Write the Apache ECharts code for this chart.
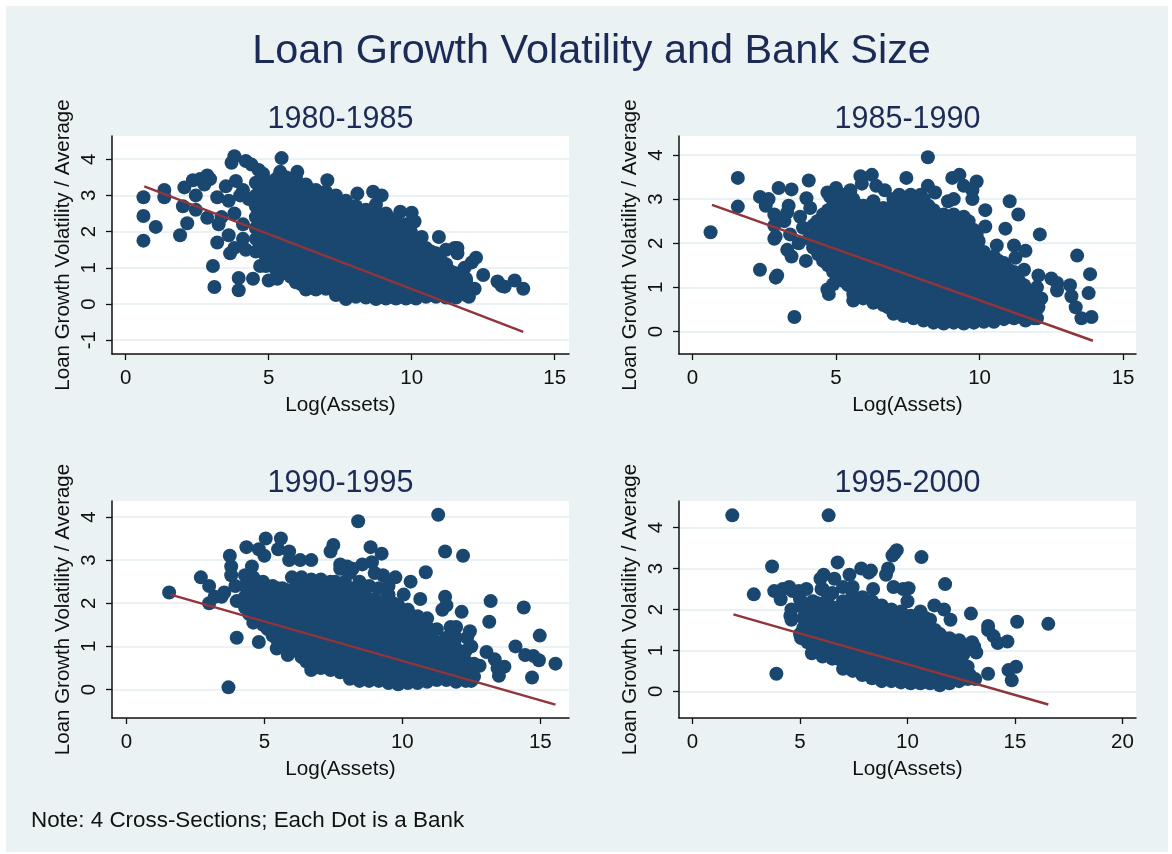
<!DOCTYPE html>
<html><head><meta charset="utf-8">
<style>html,body{margin:0;padding:0;background:#fff}#c{width:1172px;height:854px}</style>
<script src="https://cdn.jsdelivr.net/npm/echarts@6/dist/echarts.min.js"></script></head>
<body><div id="c"></div>
<script>
const mainTitle = "Loan Growth Volatility and Bank Size";
const noteText = "Note: 4 Cross-Sections; Each Dot is a Bank";
const xName = "Log(Assets)";
const yName = "Loan Growth Volatility / Average";
const periods = ["1980-1985","1985-1990","1990-1995","1995-2000"];

const xTicks = [[0,5,10,15],[0,5,10,15],[0,5,10,15],[0,5,10,15,20]];
const yTicks = [[-1,0,1,2,3,4],[0,1,2,3,4],[0,1,2,3,4],[0,1,2,3,4]];
const fit1 = [[0.65,3.25],[13.9,-0.77]];
const fit2 = [[0.68,2.87],[13.95,-0.21]];
const fit3 = [[1.6,2.2],[15.55,-0.35]];
const fit4 = [[1.9,1.88],[16.55,-0.32]];

const scatter1 = [[0.62,2.95],[0.62,2.43],[0.62,1.75],[1.05,2.13],[1.35,3.15],[1.35,2.95],[1.9,1.9],[2.05,3.22],[2.0,2.7],[2.15,2.23],[2.35,3.42],[2.45,3.0],[2.45,2.6],[2.6,3.45],[2.75,3.3],[2.85,3.55],[2.95,3.45],[2.85,2.38],[3.05,1.05],[3.1,0.47],[3.2,2.95],[3.2,1.7],[3.25,2.2],[3.35,2.4],[3.5,3.25],[3.6,2.85],[3.65,1.4],[3.6,1.9],[3.8,1.55],[3.8,2.5],[3.85,3.4],[3.95,0.72],[3.95,0.38],[4.0,3.0],[4.1,2.2],[4.1,1.8],[4.2,1.5],[4.1,3.15],[4.3,2.9],[4.45,0.7],[4.7,1.05],[5.0,0.65],[5.3,0.7],
[3.8,4.08],[3.7,3.9],[4.2,3.95],[4.4,3.85],[5.45,4.03],[4.65,3.7],[4.8,3.6],[5.4,3.65],[6.0,3.65],[7.05,3.42],
[8.1,3.05],[8.65,3.1],[8.95,3.0],[9.6,2.55],[10.0,2.52],[10.1,2.28],[10.35,1.85],[10.95,1.85],[11.2,1.5],[11.5,1.55],[11.6,1.55],[11.6,1.4],[12.25,1.28],[12.1,1.15],[11.85,1.0],[12.5,0.8],[13.0,0.62],[13.15,0.5],[13.25,0.48],[13.6,0.65],[13.9,0.42],[12.2,0.42],[11.9,0.62],[12.0,0.2]];
const columns1 = [
[4.55,[1.45,1.8,2.1,2.4,2.7,3.0,3.35]],
[4.72,[1.6,1.95,2.25,2.55,2.85,3.15]],
[4.9,[1.05,1.3,1.6,1.9,2.2,2.5,2.8,3.1,3.4]],
[5.07,[1.15,1.45,1.75,2.05,2.35,2.65,2.95,3.25]],
[5.25,[0.95,1.2,1.5,1.8,2.1,2.4,2.7,3.0,3.25,3.45]],
[5.42,[1.05,1.35,1.65,1.95,2.25,2.55,2.85,3.15,3.4]],
[5.6,[0.85,1.05,1.35,1.65,1.95,2.25,2.55,2.85,3.15,3.5]],
[5.77,[0.75,1.0,1.3,1.6,1.9,2.2,2.5,2.8,3.1,3.35]],
[5.95,[0.6,0.9,1.2,1.5,1.8,2.1,2.4,2.7,3.0,3.3,3.5]],
[6.12,[0.55,0.85,1.15,1.45,1.75,2.05,2.35,2.65,2.95,3.25]],
[6.3,[0.4,0.7,1.0,1.3,1.6,1.9,2.2,2.5,2.8,3.1,3.3]],
[6.47,[0.5,0.8,1.1,1.4,1.7,2.0,2.3,2.6,2.9,3.15]],
[6.65,[0.4,0.6,0.9,1.2,1.5,1.8,2.1,2.4,2.7,3.0,3.15]],
[6.82,[0.55,0.85,1.15,1.45,1.75,2.05,2.35,2.65,2.95]],
[7.0,[0.42,0.7,1.0,1.3,1.6,1.9,2.2,2.5,2.8,3.1]],
[7.17,[0.45,0.75,1.05,1.35,1.65,1.95,2.25,2.55,2.85]],
[7.35,[0.25,0.55,0.85,1.15,1.45,1.75,2.05,2.35,2.65,3.0]],
[7.52,[0.3,0.6,0.9,1.2,1.5,1.8,2.1,2.4,2.7]],
[7.7,[0.14,0.4,0.7,1.0,1.3,1.6,1.9,2.2,2.5,2.85]],
[7.87,[0.3,0.6,0.9,1.2,1.5,1.8,2.1,2.4,2.7]],
[8.05,[0.2,0.55,0.85,1.15,1.45,1.75,2.05,2.35,2.7]],
[8.22,[0.35,0.65,0.95,1.25,1.55,1.85,2.15,2.45]],
[8.4,[0.18,0.4,0.7,1.0,1.3,1.6,1.9,2.2,2.6]],
[8.57,[0.3,0.6,0.9,1.2,1.5,1.8,2.1,2.4]],
[8.75,[0.14,0.5,0.8,1.1,1.4,1.7,2.0,2.3,2.55,2.75]],
[8.92,[0.3,0.6,0.9,1.2,1.5,1.8,2.1,2.4]],
[9.1,[0.15,0.4,0.7,1.0,1.3,1.6,1.9,2.2,2.5]],
[9.27,[0.3,0.6,0.9,1.2,1.5,1.8,2.1,2.35]],
[9.45,[0.15,0.5,0.8,1.1,1.4,1.7,2.0,2.3]],
[9.62,[0.3,0.6,0.9,1.2,1.5,1.8,2.1]],
[9.8,[0.15,0.4,0.7,1.0,1.3,1.6,1.9,2.2]],
[9.97,[0.3,0.6,0.9,1.2,1.5,1.75,2.0]],
[10.15,[0.15,0.5,0.8,1.1,1.35,1.6]],
[10.32,[0.3,0.6,0.9,1.2,1.45]],
[10.5,[0.2,0.45,0.75,1.05,1.3,1.55]],
[10.67,[0.35,0.65,0.95,1.2,1.45]],
[10.85,[0.2,0.5,0.8,1.1,1.4]],
[11.02,[0.3,0.6,0.9,1.2]],
[11.2,[0.18,0.45,0.75,1.1]],
[11.37,[0.3,0.6,0.9]],
[11.55,[0.18,0.5,0.85]],
[11.72,[0.35,0.6]],
[11.9,[0.25,0.45,0.7]]];

const scatter2 = [[0.63,2.25],[1.58,3.48],[1.58,2.83],[2.35,3.05],[2.65,3.0],[2.55,2.85],[2.35,1.4],[2.85,2.65],[2.85,2.4],[2.9,1.22],[2.95,1.27],[2.85,2.1],[2.9,2.15],[3.0,3.25],[3.2,2.5],[3.3,2.7],[3.35,2.85],[3.3,1.85],[3.4,2.2],[3.45,1.7],[3.45,3.22],[3.7,2.0],[3.75,2.6],[3.85,2.35],[3.95,1.6],[3.97,3.02],[4.05,3.42],[3.55,0.33],[4.05,2.1],[4.1,2.8],[4.35,2.5],[4.5,1.7],[4.7,3.15],[4.8,3.05],[4.7,0.95],[4.75,0.85],[4.9,1.07],[5.0,3.25],[5.3,3.1],[5.5,3.2],[5.6,3.0],[5.6,0.7],[5.85,3.52],[5.9,3.35],[6.25,3.55],[6.4,3.3],[6.7,3.2],[7.0,3.0],[7.45,3.48],[7.2,3.1],[7.6,3.1],[7.95,3.1],[8.2,3.95],[8.2,3.3],[8.45,3.15],[8.9,2.95],[9.1,3.0],[9.05,3.48],[9.3,3.55],[9.45,3.3],[9.75,3.2],[9.9,3.4],[9.75,3.0],[10.2,2.75],[10.2,2.38],[9.9,2.2],[10.9,2.33],[11.05,2.95],[11.35,2.65],[12.1,2.2],[10.6,1.95],[11.2,1.95],[11.25,1.67],[11.6,1.83],[11.55,1.4],[12.05,1.27],[12.5,1.2],[12.7,1.1],[12.7,0.93],[12.0,1.0],[12.15,0.75],[12.05,0.55],[13.15,1.05],[13.2,0.8],[13.35,0.55],[13.55,0.3],[13.4,1.72],[13.8,0.87],[13.85,1.3],[13.9,0.33],[11.6,0.25],[12.0,0.3]];
const columns2 = [
[4.2,[1.9,2.15,2.4]],
[4.38,[1.75,2.0,2.25,2.5]],
[4.55,[1.6,1.85,2.1,2.35,2.65]],
[4.72,[1.5,1.75,2.0,2.25,2.5,2.75]],
[4.9,[1.35,1.6,1.85,2.1,2.35,2.6,2.85,3.05]],
[5.07,[1.25,1.5,1.75,2.0,2.25,2.5,2.75]],
[5.25,[1.15,1.45,1.7,1.95,2.2,2.45,2.7,2.9]],
[5.42,[1.05,1.3,1.55,1.8,2.05,2.3,2.55,2.8]],
[5.6,[0.85,1.15,1.4,1.65,1.9,2.15,2.4,2.65,2.9]],
[5.77,[0.9,1.15,1.4,1.65,1.9,2.15,2.4,2.65,2.85]],
[5.95,[0.75,1.0,1.25,1.5,1.75,2.0,2.25,2.5,2.85]],
[6.12,[0.8,1.05,1.3,1.55,1.8,2.05,2.3,2.55,2.8]],
[6.3,[0.65,0.9,1.15,1.4,1.65,1.9,2.15,2.4,2.65,2.95]],
[6.47,[0.7,0.95,1.2,1.45,1.7,1.95,2.2,2.45,2.7]],
[6.65,[0.6,0.8,1.05,1.3,1.55,1.8,2.05,2.3,2.55,2.8]],
[6.82,[0.55,0.8,1.05,1.3,1.55,1.8,2.05,2.3,2.55,2.75]],
[7.0,[0.4,0.65,0.9,1.15,1.4,1.65,1.9,2.15,2.4,2.65,2.85]],
[7.17,[0.5,0.75,1.0,1.25,1.5,1.75,2.0,2.25,2.5,2.75]],
[7.35,[0.35,0.55,0.8,1.05,1.3,1.55,1.8,2.05,2.3,2.55,2.8,3.0]],
[7.52,[0.45,0.7,0.95,1.2,1.45,1.7,1.95,2.2,2.45,2.7,2.95]],
[7.7,[0.3,0.6,0.85,1.1,1.35,1.6,1.85,2.1,2.35,2.6,2.85]],
[7.87,[0.4,0.65,0.9,1.15,1.4,1.65,1.9,2.15,2.4,2.65,2.9]],
[8.05,[0.25,0.5,0.75,1.0,1.25,1.5,1.75,2.0,2.25,2.5,2.75,3.0]],
[8.22,[0.35,0.6,0.85,1.1,1.35,1.6,1.85,2.1,2.35,2.6,2.85]],
[8.4,[0.2,0.45,0.7,0.95,1.2,1.45,1.7,1.95,2.2,2.45,2.75]],
[8.57,[0.3,0.55,0.8,1.05,1.3,1.55,1.8,2.05,2.3,2.55]],
[8.75,[0.18,0.4,0.65,0.9,1.15,1.4,1.65,1.9,2.15,2.4,2.65]],
[8.92,[0.3,0.55,0.8,1.05,1.3,1.55,1.8,2.05,2.3,2.55]],
[9.1,[0.2,0.5,0.75,1.0,1.25,1.5,1.75,2.0,2.25,2.45,2.65]],
[9.27,[0.3,0.55,0.8,1.05,1.3,1.55,1.8,2.05,2.3,2.55]],
[9.45,[0.18,0.4,0.65,0.9,1.15,1.4,1.65,1.9,2.15,2.4,2.6]],
[9.62,[0.3,0.55,0.8,1.05,1.3,1.55,1.8,2.05,2.3,2.5]],
[9.8,[0.2,0.5,0.75,1.0,1.25,1.5,1.75,2.0,2.3]],
[9.97,[0.35,0.6,0.85,1.1,1.35,1.6,1.85,2.05]],
[10.15,[0.22,0.45,0.7,0.95,1.2,1.45,1.8]],
[10.32,[0.35,0.6,0.85,1.1,1.35,1.6]],
[10.5,[0.22,0.5,0.75,1.0,1.25,1.5,1.7]],
[10.67,[0.35,0.6,0.85,1.1,1.35,1.6]],
[10.85,[0.28,0.55,0.8,1.05,1.3,1.55]],
[11.02,[0.4,0.65,0.9,1.15,1.4]],
[11.2,[0.3,0.55,0.8,1.05,1.35]],
[11.37,[0.4,0.65,0.9,1.15]],
[11.55,[0.3,0.6,0.85,1.05]],
[11.72,[0.4,0.65,0.9]],
[11.9,[0.3,0.5,0.7]]];

const scatter3 = [[1.55,2.25],[2.7,2.6],[3.0,2.0],[3.0,2.4],[3.2,2.15],[3.45,2.15],[3.55,2.25],[3.7,0.05],[3.75,3.1],[3.8,2.85],[3.8,2.65],[3.95,2.4],[4.0,1.2],[4.0,2.05],[4.3,2.05],[4.3,2.65],[4.35,3.3],[4.55,2.85],[4.8,1.1],[4.8,3.25],[5.0,3.1],[5.05,3.5],[5.5,3.25],[5.6,3.5],[5.45,0.95],[5.9,3.2],[5.9,3.0],[5.85,0.8],[6.3,3.0],[6.7,3.0],[7.4,3.2],[7.5,3.35],[7.75,2.9],[8.0,2.85],[8.2,2.8],[8.4,3.9],[8.55,2.9],[8.85,3.3],[8.9,2.95],[9.25,3.15],[9.0,2.7],[9.3,2.65],[9.5,2.4],[9.75,2.6],[10.05,2.2],[10.3,2.5],[10.65,2.1],[10.85,2.72],[11.3,4.05],[11.55,3.2],[11.55,2.15],[11.6,1.95],[11.45,1.85],[12.2,3.1],[12.15,1.8],[11.75,1.45],[11.95,1.45],[12.45,1.35],[12.35,1.2],[12.5,1.0],[13.05,0.87],[13.35,0.7],[13.45,0.5],[13.7,0.53],[13.5,0.32],[13.15,1.57],[13.2,2.05],[14.1,1.0],[14.4,1.9],[14.45,0.8],[14.7,0.28],[14.75,0.78],[14.95,0.68],[14.98,1.25],[15.55,0.6],[12.8,0.55],[12.5,0.2]];
const columns3 = [
[4.3,[1.9,2.15,2.4]],
[4.45,[1.75,2.0,2.25,2.5]],
[4.6,[1.55,1.8,2.05,2.3,2.6]],
[4.78,[1.65,1.9,2.15,2.4]],
[4.95,[1.5,1.75,2.0,2.25,2.5]],
[5.12,[1.4,1.65,1.9,2.15,2.35]],
[5.3,[1.25,1.5,1.75,2.0,2.2,2.4]],
[5.47,[1.15,1.4,1.65,1.9,2.15,2.35]],
[5.65,[1.0,1.3,1.55,1.8,2.05,2.35]],
[5.82,[1.1,1.35,1.6,1.85,2.1,2.3]],
[6.0,[0.95,1.2,1.45,1.7,1.95,2.2,2.6]],
[6.17,[0.9,1.15,1.4,1.65,1.9,2.15,2.4]],
[6.35,[0.75,1.05,1.3,1.55,1.8,2.05,2.3,2.6]],
[6.52,[0.65,0.9,1.15,1.4,1.65,1.9,2.15,2.4]],
[6.7,[0.45,0.75,1.0,1.25,1.5,1.75,2.0,2.25,2.55]],
[6.87,[0.6,0.85,1.1,1.35,1.6,1.85,2.1,2.35]],
[7.05,[0.5,0.7,0.95,1.2,1.45,1.7,1.95,2.2,2.55]],
[7.22,[0.6,0.85,1.1,1.35,1.6,1.85,2.1,2.35]],
[7.4,[0.45,0.75,1.0,1.25,1.5,1.75,2.0,2.25,2.5]],
[7.57,[0.55,0.8,1.05,1.3,1.55,1.8,2.05,2.3,2.5]],
[7.75,[0.4,0.65,0.9,1.15,1.4,1.65,1.9,2.15,2.4,2.8]],
[7.92,[0.45,0.7,0.95,1.2,1.45,1.7,1.95,2.2,2.5]],
[8.1,[0.25,0.5,0.8,1.05,1.3,1.55,1.8,2.05,2.3,2.7]],
[8.27,[0.35,0.6,0.85,1.1,1.35,1.6,1.85,2.1,2.35]],
[8.45,[0.2,0.45,0.7,0.95,1.2,1.45,1.7,1.95,2.2,2.5]],
[8.62,[0.3,0.55,0.85,1.1,1.35,1.6,1.85,2.1,2.3]],
[8.8,[0.2,0.55,0.8,1.05,1.3,1.55,1.8,2.05,2.4]],
[8.97,[0.3,0.6,0.85,1.1,1.35,1.6,1.85,2.1]],
[9.15,[0.2,0.45,0.7,0.95,1.2,1.45,1.7,1.95,2.35]],
[9.32,[0.3,0.55,0.8,1.05,1.3,1.55,1.8,2.05]],
[9.5,[0.15,0.4,0.65,0.9,1.15,1.4,1.65,1.9,2.2]],
[9.67,[0.25,0.5,0.75,1.0,1.25,1.5,1.75,2.0]],
[9.85,[0.12,0.4,0.65,0.9,1.15,1.4,1.65,1.95]],
[10.02,[0.25,0.5,0.75,1.0,1.25,1.5,1.75]],
[10.2,[0.15,0.45,0.7,0.95,1.2,1.45,1.85]],
[10.37,[0.25,0.5,0.75,1.0,1.25,1.5,1.7]],
[10.55,[0.15,0.4,0.65,0.9,1.15,1.4,1.7]],
[10.72,[0.3,0.55,0.8,1.05,1.3,1.55]],
[10.9,[0.18,0.45,0.7,0.95,1.2,1.45,1.65]],
[11.07,[0.3,0.55,0.8,1.05,1.3]],
[11.25,[0.22,0.5,0.75,1.0,1.4]],
[11.42,[0.35,0.6,0.85,1.1]],
[11.6,[0.22,0.45,0.7,0.95,1.2]],
[11.77,[0.3,0.55,0.8,1.05]],
[11.95,[0.18,0.45,0.7,0.95,1.2]],
[12.12,[0.3,0.55,0.8]],
[12.3,[0.2,0.45,0.65,0.9]],
[12.45,[0.3,0.55]],
[12.6,[0.3,0.6]]];

const scatter4 = [[1.85,4.3],[6.33,4.3],[2.85,2.37],[3.7,3.05],[3.8,2.45],[3.9,0.43],[4.1,2.25],[4.2,2.5],[4.5,2.55],[4.65,2.45],[4.6,2.0],[4.55,1.85],[4.6,1.75],[4.95,2.45],[5.0,2.25],[5.0,1.4],[5.05,1.3],[5.3,2.5],[5.4,1.55],[5.55,0.93],[5.95,2.75],[6.1,2.85],[6.0,2.5],[6.6,2.75],[6.75,3.15],[7.0,2.55],[7.3,2.85],[7.45,2.55],[7.85,3.0],[8.2,2.9],[8.3,2.95],[8.4,2.5],[9.0,2.85],[9.1,3.0],[9.3,3.32],[9.4,3.38],[9.5,3.45],[9.35,2.55],[9.8,2.5],[10.05,2.52],[10.0,2.2],[10.65,3.28],[11.25,2.1],[11.7,2.0],[11.75,2.62],[12.0,1.75],[12.95,1.9],[13.0,1.2],[13.1,1.1],[13.2,0.95],[13.15,0.3],[13.75,0.43],[13.75,1.6],[13.75,1.5],[14.0,1.35],[14.2,1.18],[14.65,1.22],[14.7,0.52],[15.05,0.6],[14.85,0.27],[15.1,1.7],[16.55,1.65],[12.6,0.45],[12.9,0.4]];
const columns4 = [
[5.15,[1.55,1.8,2.05]],
[5.35,[1.2,1.45,1.7,1.95]],
[5.6,[1.0,1.25,1.5,1.75,2.0,2.2]],
[5.82,[1.15,1.4,1.65,1.9,2.15]],
[6.05,[0.85,1.1,1.35,1.6,1.85,2.1,2.5]],
[6.28,[1.0,1.25,1.5,1.75,2.0,2.25]],
[6.5,[0.8,1.05,1.3,1.55,1.8,2.05,2.4]],
[6.75,[0.8,1.05,1.3,1.55,1.8,2.05]],
[7.0,[0.55,0.8,1.05,1.3,1.55,1.8,2.2]],
[7.22,[0.65,0.9,1.15,1.4,1.65,1.9,2.15]],
[7.45,[0.5,0.75,1.0,1.25,1.5,1.75,2.0,2.35]],
[7.68,[0.6,0.85,1.1,1.35,1.6,1.85,2.1]],
[7.9,[0.4,0.65,0.9,1.15,1.4,1.65,1.9,2.3]],
[8.12,[0.5,0.75,1.0,1.25,1.5,1.75,2.0]],
[8.35,[0.32,0.6,0.85,1.1,1.35,1.6,1.85,2.2]],
[8.58,[0.4,0.65,0.9,1.15,1.4,1.65,1.9]],
[8.8,[0.25,0.5,0.75,1.0,1.25,1.5,1.75,2.1]],
[9.02,[0.35,0.6,0.85,1.1,1.35,1.6,1.85]],
[9.25,[0.25,0.55,0.8,1.05,1.3,1.55,1.8,2.0]],
[9.48,[0.35,0.6,0.85,1.1,1.35,1.6,1.85]],
[9.7,[0.22,0.5,0.75,1.0,1.25,1.5,1.75,1.95]],
[9.92,[0.3,0.55,0.8,1.05,1.3,1.55,1.8]],
[10.15,[0.2,0.45,0.7,0.95,1.2,1.45,1.85]],
[10.38,[0.3,0.55,0.8,1.05,1.3,1.55,1.75]],
[10.6,[0.2,0.5,0.75,1.0,1.25,1.5,1.95]],
[10.82,[0.3,0.55,0.8,1.05,1.3,1.55,1.8]],
[11.05,[0.2,0.45,0.7,0.95,1.2,1.45,1.75]],
[11.28,[0.3,0.55,0.8,1.05,1.3,1.5]],
[11.5,[0.15,0.4,0.65,0.9,1.15,1.4]],
[11.72,[0.3,0.55,0.8,1.05,1.3]],
[11.95,[0.2,0.45,0.7,0.95,1.3]],
[12.18,[0.35,0.6,0.85,1.1]],
[12.4,[0.25,0.5,0.75,1.0,1.25]],
[12.6,[0.4,0.65,0.9,1.1]],
[12.8,[0.3,0.6]]];

const points = (s, cols) => s.concat(...cols.map(c => c[1].map(y => [c[0], y])));
const clouds = [points(scatter1,columns1),points(scatter2,columns2),points(scatter3,columns3),points(scatter4,columns4)];
const fits = [fit1,fit2,fit3,fit4];

const bg = '#eaf2f3', navy = '#1a476f', red = '#90353b', ink = '#1c2b55', tx = '#111';
const font = '"Liberation Sans", Arial, sans-serif';
const boxes = [[112,136,457,218],[679,136,457,218],[112,501,457,217],[679,501,457,217]];
const xRange = [[-0.48,15.5],[-0.47,15.45],[-0.52,16.04],[-0.63,20.63]];
const yRange = [[-1.38,4.64],[-0.51,4.43],[-0.66,4.37],[-0.65,4.65]];
const titleY = [104,104,468,468];

const chart = echarts.init(document.getElementById('c'), null, {renderer:'canvas'});
const tickStyle = {show:true,length:6,lineStyle:{color:'#111',width:1.3}};
chart.setOption({
  animation:false,
  backgroundColor:'#fff',
  graphic:[{type:'rect',z:-10,silent:true,shape:{x:6,y:6,width:1162,height:846},style:{fill:bg}}],
  title:[
    {text:mainTitle,left:591.5,top:31,padding:0,textAlign:'center',textStyle:{fontFamily:font,fontSize:41.4,fontWeight:'normal',color:ink}},
    ...periods.map((p,i)=>({text:p,left:boxes[i][0]+boxes[i][2]/2,top:titleY[i],padding:0,textAlign:'center',textStyle:{fontFamily:font,fontSize:30.5,fontWeight:'normal',color:ink}})),
    {text:noteText,left:31,top:810,padding:0,textStyle:{fontFamily:font,fontSize:22.4,fontWeight:'normal',color:tx}}
  ],
  grid:boxes.map(b=>({left:b[0],top:b[1],width:b[2],height:b[3],show:true,backgroundColor:'#fff',borderWidth:0})),
  xAxis:boxes.map((b,i)=>({gridIndex:i,type:'value',min:xRange[i][0],max:xRange[i][1],
    name:xName,nameLocation:'middle',nameGap:41,nameTextStyle:{fontFamily:font,fontSize:20.7,color:tx},
    axisLine:{onZero:false,lineStyle:{color:'#111',width:1.5}},
    axisTick:Object.assign({customValues:xTicks[i]},tickStyle),
    axisLabel:{customValues:xTicks[i],fontFamily:font,fontSize:20.5,color:tx,margin:14,hideOverlap:false},
    splitLine:{show:false}})),
  yAxis:boxes.map((b,i)=>({gridIndex:i,type:'value',min:yRange[i][0],max:yRange[i][1],
    name:yName,nameLocation:'middle',nameRotate:90,nameGap:38,nameTextStyle:{fontFamily:font,fontSize:20.5,color:tx},
    axisLine:{onZero:false,lineStyle:{color:'#111',width:1.5}},
    axisTick:Object.assign({customValues:yTicks[i]},tickStyle),
    axisLabel:{customValues:yTicks[i],rotate:90,fontFamily:font,fontSize:20.5,color:tx,margin:12,align:'center',verticalAlign:'bottom'},
    splitLine:{show:true,customValues:yTicks[i],lineStyle:{color:bg,width:2}}})),
  series:[
    ...clouds.map((d,i)=>({type:'scatter',xAxisIndex:i,yAxisIndex:i,data:d,symbolSize:14,itemStyle:{color:navy,opacity:1},silent:true,z:3})),
    ...fits.map((d,i)=>({type:'line',xAxisIndex:i,yAxisIndex:i,data:d,showSymbol:false,lineStyle:{color:red,width:2.5},silent:true,z:4}))
  ]
});
</script></body></html>
